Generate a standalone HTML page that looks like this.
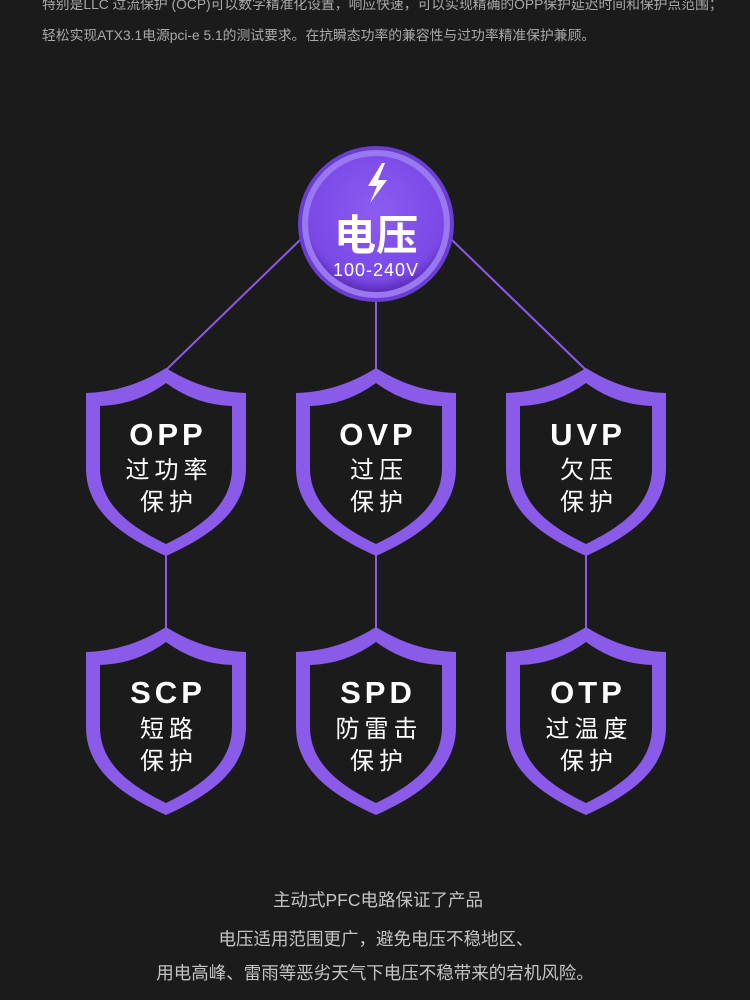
<!DOCTYPE html>
<html><head><meta charset="utf-8"><style>
body{margin:0;background:#1c1b1c;width:750px;height:1000px;overflow:hidden;font-family:"Liberation Sans","Noto Sans CJK SC",sans-serif}
</style></head><body>
<svg width="750" height="1000" viewBox="0 0 750 1000" xmlns="http://www.w3.org/2000/svg" style="position:absolute;left:0;top:0">
<defs>
<radialGradient id="g" cx="50%" cy="40%" r="60%">
<stop offset="0" stop-color="#8c5cf2"/><stop offset="0.85" stop-color="#7a48e6"/><stop offset="1" stop-color="#5a2cb8"/>
</radialGradient>
<g id="sh">
<path fill="#8a5ae8" fill-rule="evenodd" d="M0,0 Q38,24 80,25 L80,100 C80,145 40,170 0,188 C-40,170 -80,145 -80,100 L-80,25 Q-38,24 0,0 Z M0,15 Q30,37 66,38 L66,100 C66,138 33,160 0,176 C-33,160 -66,138 -66,100 L-66,38 Q-30,37 0,15 Z"/>
</g>
</defs>
<g font-size="13.8" fill="#a9a9a9" font-family="Liberation Sans,Noto Sans CJK SC,sans-serif">
<text x="42" y="9">特别是LLC 过流保护 (OCP)可以数字精准化设置，响应快速，可以实现精确的OPP保护延迟时间和保护点范围；</text>
<text x="42" y="40">轻松实现ATX3.1电源pci-e 5.1的测试要求。在抗瞬态功率的兼容性与过功率精准保护兼顾。</text>
</g>
<g stroke="#8a5ae8" stroke-width="2" fill="none">
<line x1="300" y1="240" x2="166" y2="370"/>
<line x1="452" y1="240" x2="586" y2="370"/>
<line x1="376" y1="300" x2="376" y2="370"/>
<line x1="166" y1="555" x2="166" y2="630"/>
<line x1="376" y1="555" x2="376" y2="630"/>
<line x1="586" y1="555" x2="586" y2="630"/>
</g>
<circle cx="376" cy="224" r="78" fill="#6a3ed0"/>
<circle cx="376" cy="224" r="74" fill="#9a78f0"/>
<circle cx="376" cy="224" r="68" fill="url(#g)"/>
<path d="M382,163 L368,186 L377,186 L370,203 L387,180 L378,180 L385,163 Z" fill="#fff"/>
<text x="376" y="250" text-anchor="middle" font-size="42" font-weight="bold" fill="#fff" font-family="Noto Sans CJK SC,sans-serif">电压</text>
<text x="376" y="276" text-anchor="middle" font-size="18" fill="#fff" letter-spacing="1">100-240V</text>
<use href="#sh" x="166" y="368"/><use href="#sh" x="376" y="368"/><use href="#sh" x="586" y="368"/>
<use href="#sh" x="166" y="627"/><use href="#sh" x="376" y="627"/><use href="#sh" x="586" y="627"/>
<g fill="#fff" text-anchor="middle" font-family="Liberation Sans,Noto Sans CJK SC,sans-serif">
<g font-size="31" font-weight="bold" letter-spacing="4">
<text x="168" y="445">OPP</text><text x="378" y="445">OVP</text><text x="588" y="445">UVP</text>
<text x="168" y="703">SCP</text><text x="378" y="703">SPD</text><text x="588" y="703">OTP</text>
</g>
<g font-size="24" letter-spacing="5">
<text x="169" y="478">过功率</text><text x="379" y="478">过压</text><text x="589" y="478">欠压</text>
<text x="169" y="510">保护</text><text x="379" y="510">保护</text><text x="589" y="510">保护</text>
<text x="169" y="737">短路</text><text x="379" y="737">防雷击</text><text x="589" y="737">过温度</text>
<text x="169" y="769">保护</text><text x="379" y="769">保护</text><text x="589" y="769">保护</text>
</g>
</g>
<g font-size="17.5" fill="#c4c4c4" text-anchor="middle" font-family="Liberation Sans,Noto Sans CJK SC,sans-serif">
<text x="378" y="906">主动式PFC电路保证了产品</text>
<text x="376" y="945">电压适用范围更广，避免电压不稳地区、</text>
<text x="375" y="979">用电高峰、雷雨等恶劣天气下电压不稳带来的宕机风险。</text>
</g>
</svg>
</body></html>
